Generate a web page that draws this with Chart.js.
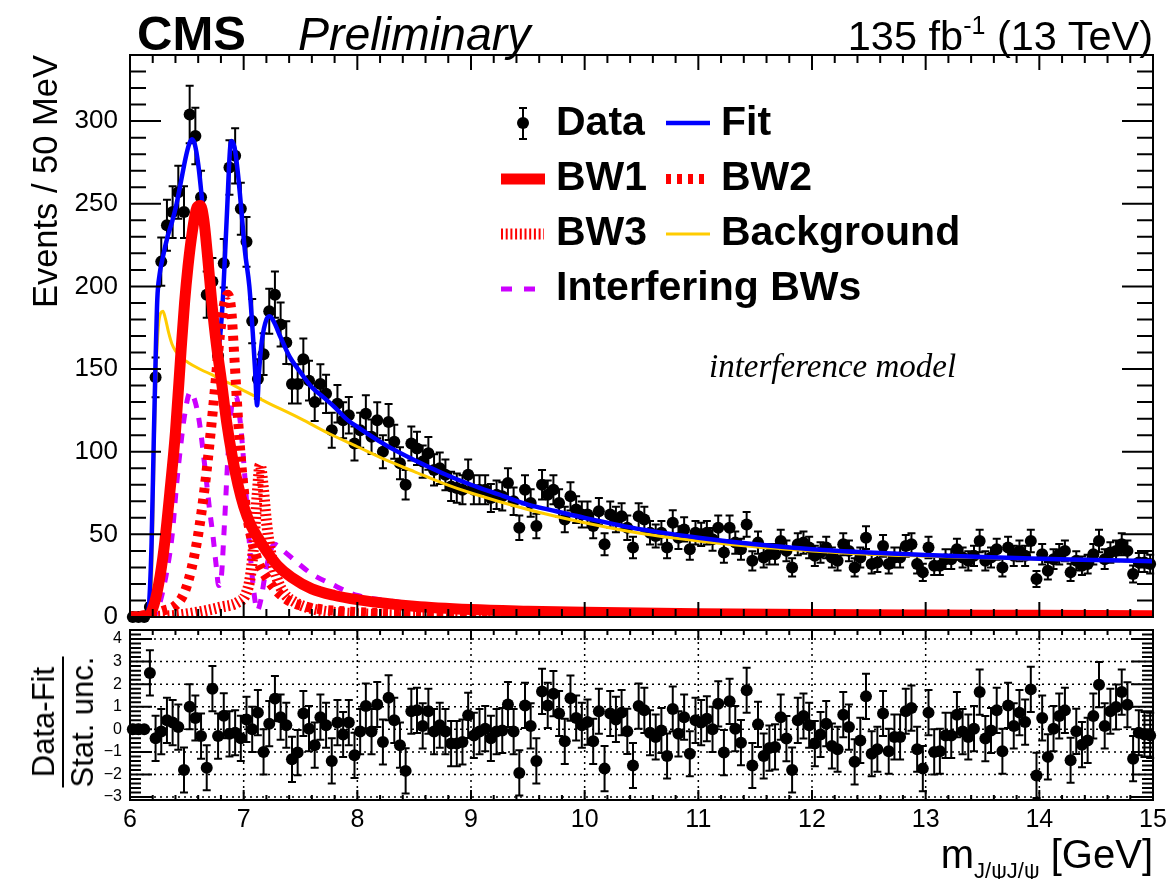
<!DOCTYPE html>
<html>
<head>
<meta charset="utf-8">
<title>CMS J/psi J/psi - interference model</title>
<script src="https://cdn.jsdelivr.net/npm/chart.js@4.4.1/dist/chart.umd.min.js"></script>
<style>
  body { margin: 0; background: #fff; }
  #page { position: relative; width: 1171px; height: 879px; overflow: hidden;
          font-family: "Liberation Sans", Arial, Helvetica, sans-serif; color: #000; }
  canvas { position: absolute; left: 0; }
  #mainCanvas { top: 0; }
  #pullCanvas { top: 600px; }
  .txt { position: absolute; white-space: nowrap; line-height: 1; }
  .leg { font-size: 41px; font-weight: bold; }
</style>
</head>
<body>
<div id="page">
  <canvas id="mainCanvas" width="1171" height="633"></canvas>
  <canvas id="pullCanvas" width="1171" height="279"></canvas>

  <div class="txt" style="left:137px;top:9px;font-size:49px;font-weight:bold">CMS</div>
  <div class="txt" style="left:298px;top:11px;font-size:46.5px;font-style:italic">Preliminary</div>
  <div class="txt" style="right:18px;top:15px;font-size:41.5px">135 fb<span style="font-size:25px;position:relative;top:-16px">-1</span> (13 TeV)</div>

  <div class="txt" style="left:28px;top:360px;width:305px;text-align:right;font-size:34.5px;transform-origin:0 0;transform:rotate(-90deg)">Events / 50 MeV</div>
  <div class="txt" style="left:63px;top:722px;font-size:31px;text-align:center;transform:translate(-50%,-50%) rotate(-90deg)">
    <div style="border-bottom:2px solid #000;padding:0 2px 3px">Data-Fit</div>
    <div style="padding-top:3px">Stat. unc.</div>
  </div>
  <div class="txt" style="right:18px;top:834px;font-size:40px">m<span style="font-size:22px;position:relative;top:10px">J/ψJ/ψ</span> [GeV]</div>

  <div class="txt leg" style="left:556px;top:101px">Data</div>
  <div class="txt leg" style="left:721px;top:101px">Fit</div>
  <div class="txt leg" style="left:556px;top:156px">BW1</div>
  <div class="txt leg" style="left:721px;top:156px">BW2</div>
  <div class="txt leg" style="left:556px;top:211px">BW3</div>
  <div class="txt leg" style="left:721px;top:211px">Background</div>
  <div class="txt leg" style="left:556px;top:266px">Interfering BWs</div>
  <div class="txt" style="left:709px;top:350px;font-size:33px;font-style:italic;font-family:'Liberation Serif','DejaVu Serif',serif">interference model</div>
</div>

<script>
// ---------- DATA ----------
// 50 MeV bins from 6 to 15 GeV
var massLow = 6.0;
var binWidth = 0.05;

// events per bin
var events = [
  0, 0, 0, 6, 145, 215, 237, 245, 257, 245,
  304, 291, 254, 195, 203, 158, 214, 272, 279, 247,
  227, 179, 144, 159, 185, 195, 177, 166, 141, 141,
  156, 143, 130, 141, 135, 113, 129, 119, 122, 105,
  113, 123, 109, 119, 100, 118, 106, 93, 80, 105,
  102, 94, 99, 89, 90, 86, 79, 78, 77, 86,
  77, 77, 77, 72, 74, 73, 81, 70, 54, 77,
  69, 55, 80, 74, 77, 69, 59, 73, 65, 62,
  62, 55, 64, 44, 62, 59, 61, 54, 42, 61,
  59, 51, 49, 51, 42, 57, 48, 53, 41, 51,
  50, 51, 47, 54, 39, 54, 45, 41, 56, 34,
  45, 36, 38, 38, 46, 40, 30, 44, 45, 42,
  37, 39, 42, 36, 34, 44, 40, 30, 36, 48,
  32, 33, 43, 32, 36, 36, 43, 44, 32, 27,
  42, 31, 31, 35, 35, 41, 36, 34, 37, 46,
  34, 36, 41, 30, 42, 37, 40, 37, 46, 23,
  38, 28, 35, 38, 40, 27, 34, 31, 32, 38,
  46, 35, 39, 40, 44, 40, 26, 33, 33, 32
];

// (data - fit) / stat. unc. per bin
var pulls = [
  0, 0, 0, 2.5, -0.4, -0.1, 0.4, 0.3, 0.1, -1.8,
  1.0, 0.5, -0.3, -1.7, 1.8, -0.3, 0.6, -0.2, -0.15, -0.4,
  0.44, 0, 0.74, -1.0, 0.25, 1.36, 0.54, 0.18, -1.33, -1.03,
  0.7, 0.03, -0.7, 0.54, 0.18, -1.4, 0.3, -0.23, 0.3, -1.15,
  -0.1, 1.03, -0.1, 1.1, -0.56, 1.4, 0.4, -0.7, -1.84, 0.8,
  0.84, 0.15, 0.8, -0.1, 0.18, -0.1, -0.63, -0.63, -0.56, 0.62,
  -0.27, -0.1, 0.03, -0.4, -0.1, -0.05, 1.1, -0.1, -1.93, 1.06,
  0.15, -1.4, 1.68, 1.06, 1.58, 0.7, -0.53, 1.38, 0.5, 0.18,
  0.32, -0.53, 0.8, -1.74, 0.7, 0.44, 0.74, -0.09, -1.6, 1.03,
  0.84, -0.15, -0.34, -0.05, -1.18, 0.9, -0.2, 0.54, -1.08, 0.4,
  0.3, 0.47, 0, 1.13, -1.03, 1.24, 0.03, -0.59, 1.73, -1.6,
  0.22, -1.18, -0.83, -0.78, 0.54, -0.41, -1.8, 0.4, 0.59, 0.18,
  -0.63, -0.23, 0.25, -0.74, -0.88, 0.65, 0.1, -1.44, -0.49, 1.46,
  -1.08, -0.88, 0.7, -0.97, -0.34, -0.34, 0.8, 0.94, -0.88, -1.74,
  0.74, -1.0, -0.97, -0.27, -0.27, 0.65, -0.1, -0.34, 0.03, 1.65,
  -0.41, -0.05, 0.84, -0.97, 1.06, 0.15, 0.74, 0.32, 1.77, -2.04,
  0.5, -1.22, 0.03, 0.59, 0.84, -1.37, -0.09, -0.68, -0.49, 0.59,
  1.98, 0.15, 0.8, 0.99, 1.65, 1.09, -1.3, -0.15, -0.23, -0.27
];

// total fit
var fitMass = [6.00, 6.15, 6.17, 6.19, 6.21, 6.225, 6.24, 6.26, 6.29, 6.33, 6.37, 6.41, 6.45, 6.49, 6.52, 6.545, 6.57, 6.60, 6.63, 6.66, 6.69, 6.72, 6.75, 6.77, 6.79, 6.82, 6.85, 6.89, 6.92, 6.95, 6.98, 7.01, 7.05, 7.08, 7.10, 7.118, 7.135, 7.16, 7.20, 7.23, 7.27, 7.32, 7.40, 7.50, 7.60, 7.70, 7.80, 7.90, 8.00, 8.25, 8.50, 8.75, 9.00, 9.25, 9.50, 9.75, 10.0, 10.5, 11.0, 11.5, 12.0, 12.5, 13.0, 13.5, 14.0, 14.5, 15.0];
var fitVal  = [0, 0, 10, 45, 110, 155, 192, 207, 218, 230, 239, 250, 264, 278, 286, 289, 286, 274, 255, 232, 207, 183, 166, 161, 168, 196, 240, 288, 284, 268, 246, 222, 200, 172, 150, 128, 148, 167, 180, 182, 178, 170, 158, 148, 139, 133, 127, 120, 115, 104, 95, 87, 80, 74, 68, 64, 60, 53, 48, 44, 41, 39, 37.5, 36.3, 35.3, 34.5, 33.8];

// BW1
var bw1Mass = [6.00, 6.15, 6.20, 6.25, 6.30, 6.35, 6.40, 6.45, 6.48, 6.51, 6.55, 6.59, 6.62, 6.65, 6.68, 6.72, 6.76, 6.80, 6.85, 6.90, 6.95, 7.00, 7.06, 7.125, 7.20, 7.30, 7.42, 7.60, 7.80, 8.00, 8.50, 9.00, 9.50, 10.0, 11.0, 12.0, 13.0, 14.0, 15.0];
var bw1Val  = [0, 0, 5, 19, 42, 75, 112, 162, 190, 212, 234, 248, 249, 240, 220, 190, 165, 145, 118, 97, 80, 67, 56, 48, 40, 31, 24, 17, 13, 10.5, 6.5, 4.5, 3.5, 2.8, 2.0, 1.5, 1.2, 1.0, 0.8];

// BW2
var bw2Mass = [6.00, 6.20, 6.30, 6.40, 6.48, 6.54, 6.60, 6.66, 6.71, 6.75, 6.79, 6.83, 6.86, 6.89, 6.92, 6.95, 6.98, 7.02, 7.07, 7.13, 7.21, 7.30, 7.42, 7.60, 8.00, 9.00, 10.0, 12.0, 15.0];
var bw2Val  = [0, 2, 4, 7, 15, 29, 50, 80, 112, 140, 170, 190, 195, 186, 155, 120, 92, 66, 47, 33, 23, 15, 9, 5.5, 3, 1.5, 1, 0.6, 0.3];

// BW3
var bw3Mass = [6.00, 6.40, 6.60, 6.80, 6.95, 7.02, 7.06, 7.09, 7.12, 7.145, 7.17, 7.20, 7.24, 7.30, 7.36, 7.45, 7.60, 8.00, 9.00, 15.0];
var bw3Val  = [0, 1, 3, 6, 9, 14, 25, 45, 75, 92, 80, 58, 38, 22, 14, 9, 5, 2, 1, 0.2];

// interfering BWs
var intMass = [6.00, 6.20, 6.25, 6.28, 6.33, 6.37, 6.41, 6.44, 6.48, 6.53, 6.57, 6.61, 6.66, 6.70, 6.73, 6.76, 6.78, 6.80, 6.83, 6.86, 6.89, 6.93, 6.97, 7.01, 7.05, 7.09, 7.12, 7.15, 7.20, 7.27, 7.35, 7.47, 7.60, 7.77, 8.00, 8.25, 8.50, 9.00, 9.50, 10.0, 11.0, 12.0, 13.5, 15.0];
var intVal  = [0, 0, 6, 13, 30, 49, 80, 100, 122, 136, 131, 118, 90, 65, 49, 30, 19, 22, 55, 95, 125, 134, 118, 85, 45, 15, 4, 10, 30, 44, 40, 33, 26, 20, 13, 10, 8, 5, 3.5, 2.5, 1.5, 1, 0.6, 0.4];

// background
var bkgMass = [6.00, 6.17, 6.19, 6.21, 6.23, 6.25, 6.27, 6.29, 6.31, 6.34, 6.37, 6.40, 6.45, 6.51, 6.60, 6.80, 7.00, 7.20, 7.50, 7.75, 8.00, 8.25, 8.50, 8.75, 9.00, 9.50, 10.0, 10.5, 11.0, 11.5, 12.0, 12.5, 13.0, 13.5, 14.0, 14.5, 15.0];
var bkgVal  = [0, 0, 20, 90, 150, 176, 184, 185, 181, 172, 165, 161, 157, 154, 150.5, 144, 137, 130, 120, 111, 103, 95, 88, 81, 75, 65, 57, 50.5, 46, 42.5, 40, 38, 36.8, 35.8, 35, 34.3, 33.7];

// axis ticks
var mainYTicks = [0, 50, 100, 150, 200, 250, 300];
var pullYTicks = [-3, -2, -1, 0, 1, 2, 3, 4];
var massTicks = [6, 7, 8, 9, 10, 11, 12, 13, 14, 15];

// ---------- helpers ----------
var binMass = events.map(function (n, i) { return +(massLow + (i + 0.5) * binWidth).toFixed(3); });

function curve(xs, ys) {
  return xs.map(function (x, i) { return { x: x, y: ys[i] }; });
}

function line(label, xs, ys, color, width, dash) {
  return {
    label: label, data: curve(xs, ys), showLine: true, pointRadius: 0,
    borderColor: color, backgroundColor: color, borderWidth: width,
    borderDash: dash || [], borderCapStyle: 'butt', cubicInterpolationMode: 'monotone', fill: false
  };
}

// ROOT style frame with inward ticks on all four sides
function drawFrameTicks(chart, t) {
  var ctx = chart.ctx, a = chart.chartArea, x = chart.scales.x, y = chart.scales.y;
  ctx.save();
  ctx.strokeStyle = '#000';
  ctx.lineWidth = 2;
  ctx.setLineDash([]);
  ctx.beginPath();
  var k, v, len, p;
  var k0 = Math.ceil(x.min / t.xStep - 1e-6), k1 = Math.floor(x.max / t.xStep + 1e-6);
  for (k = k0; k <= k1; k++) {
    v = k * t.xStep;
    len = Math.abs(v - Math.round(v / t.xMajor) * t.xMajor) < 1e-6 ? t.xMajorLen : t.xMinorLen;
    p = x.getPixelForValue(v);
    ctx.moveTo(p, a.bottom); ctx.lineTo(p, a.bottom - len);
    ctx.moveTo(p, a.top); ctx.lineTo(p, a.top + len);
  }
  k0 = Math.ceil(y.min / t.yStep - 1e-6); k1 = Math.floor(y.max / t.yStep + 1e-6);
  for (k = k0; k <= k1; k++) {
    v = k * t.yStep;
    len = Math.abs(v - Math.round(v / t.yMajor) * t.yMajor) < 1e-6 ? t.yMajorLen : t.yMinorLen;
    p = y.getPixelForValue(v);
    ctx.moveTo(a.left, p); ctx.lineTo(a.left + len, p);
    ctx.moveTo(a.right, p); ctx.lineTo(a.right - len, p);
  }
  ctx.stroke();
  ctx.strokeRect(a.left, a.top, a.right - a.left, a.bottom - a.top);
  ctx.restore();
}

function drawErrorBars(chart, vals, errs, cap) {
  var ctx = chart.ctx, x = chart.scales.x, y = chart.scales.y;
  ctx.save();
  ctx.strokeStyle = '#000';
  ctx.lineWidth = 2;
  ctx.beginPath();
  vals.forEach(function (v, i) {
    var e = errs[i];
    if (!e) return;
    var px = x.getPixelForValue(binMass[i]);
    var y1 = y.getPixelForValue(v - e), y2 = y.getPixelForValue(v + e);
    ctx.moveTo(px, y1); ctx.lineTo(px, y2);
    ctx.moveTo(px - cap, y1); ctx.lineTo(px + cap, y1);
    ctx.moveTo(px - cap, y2); ctx.lineTo(px + cap, y2);
  });
  ctx.stroke();
  ctx.restore();
}

function legendLine(ctx, x1, x2, yy, color, width, dash) {
  ctx.save();
  ctx.strokeStyle = color;
  ctx.lineWidth = width;
  ctx.lineCap = 'butt';
  ctx.setLineDash(dash || []);
  ctx.beginPath();
  ctx.moveTo(x1, yy); ctx.lineTo(x2, yy);
  ctx.stroke();
  ctx.restore();
}

Chart.defaults.font.family = '"Liberation Sans", Arial, Helvetica, sans-serif';
Chart.defaults.color = '#000';

var statErr = events.map(function (n) { return n > 0 ? Math.sqrt(n) : 0; });
var pullErr = events.map(function (n) { return n > 0 ? 1 : 0; });

// ---------- main panel ----------
var mainDeco = {
  id: 'mainDeco',
  beforeDatasetsDraw: function (chart) {
    drawErrorBars(chart, events, statErr, 4);
  },
  afterDraw: function (chart) {
    drawFrameTicks(chart, { xStep: 0.2, xMajor: 1, xMajorLen: 15, xMinorLen: 8,
                            yStep: 10, yMajor: 50, yMajorLen: 31, yMinorLen: 16 });
    var ctx = chart.ctx;
    // legend symbols
    ctx.save();
    ctx.strokeStyle = '#000'; ctx.lineWidth = 2;
    ctx.beginPath();
    ctx.moveTo(523, 108); ctx.lineTo(523, 139);
    ctx.moveTo(519, 108); ctx.lineTo(527, 108);
    ctx.moveTo(519, 139); ctx.lineTo(527, 139);
    ctx.stroke();
    ctx.fillStyle = '#000';
    ctx.beginPath(); ctx.arc(523, 123, 6, 0, Math.PI * 2); ctx.fill();
    ctx.restore();
    legendLine(ctx, 666, 710, 123, '#0000ff', 4.5);
    legendLine(ctx, 501, 545, 179, '#ff0000', 11);
    legendLine(ctx, 666, 710, 179, '#ff0000', 10, [5, 6]);
    legendLine(ctx, 501, 544, 234, '#ff0000', 11, [2, 2.7]);
    legendLine(ctx, 666, 710, 234, '#ffcc00', 3);
    legendLine(ctx, 501, 535, 289, '#cc00ff', 5, [11, 12]);
  }
};

new Chart(document.getElementById('mainCanvas'), {
  type: 'scatter',
  data: {
    datasets: [
      line('BW1', bw1Mass, bw1Val, '#ff0000', 11),
      line('BW2', bw2Mass, bw2Val, '#ff0000', 10, [5, 6]),
      line('BW3', bw3Mass, bw3Val, '#ff0000', 11, [2, 2.7]),
      line('Interfering BWs', intMass, intVal, '#cc00ff', 5, [10, 10]),
      line('Fit', fitMass, fitVal, '#0000ff', 4.5),
      line('Background', bkgMass, bkgVal, '#ffcc00', 3),
      {
        label: 'Data', data: curve(binMass, events), showLine: false,
        pointRadius: 6, pointBackgroundColor: '#000', pointBorderWidth: 0, clip: false
      }
    ]
  },
  options: {
    responsive: false, animation: false, devicePixelRatio: 1, events: [],
    layout: { autoPadding: false, padding: { left: 0, right: 18, top: 55, bottom: 0 } },
    plugins: { legend: { display: false }, tooltip: { enabled: false } },
    scales: {
      x: {
        type: 'linear', min: 6, max: 15,
        ticks: { display: false },
        grid: { display: false, drawTicks: false }, border: { display: false },
        afterFit: function (s) { s.height = 16; }
      },
      y: {
        min: 0, max: 340,
        ticks: { font: { size: 26 }, padding: 0, color: '#000', autoSkip: false },
        grid: { display: false, drawTicks: true, tickLength: 12 }, border: { display: false },
        afterBuildTicks: function (s) { s.ticks = mainYTicks.map(function (v) { return { value: v }; }); },
        afterFit: function (s) { s.width = 130; }
      }
    }
  },
  plugins: [mainDeco]
});

// ---------- pull panel ----------
var pullDeco = {
  id: 'pullDeco',
  beforeDatasetsDraw: function (chart) {
    var ctx = chart.ctx, a = chart.chartArea, x = chart.scales.x, y = chart.scales.y;
    ctx.save();
    ctx.strokeStyle = '#000';
    ctx.lineWidth = 1.5;
    ctx.setLineDash([2, 4]);
    ctx.beginPath();
    massTicks.forEach(function (m) {
      var p = x.getPixelForValue(m);
      ctx.moveTo(p, a.top); ctx.lineTo(p, a.bottom);
    });
    pullYTicks.forEach(function (v) {
      var p = y.getPixelForValue(v);
      ctx.moveTo(a.left, p); ctx.lineTo(a.right, p);
    });
    ctx.stroke();
    ctx.restore();
    drawErrorBars(chart, pulls, pullErr, 4);
  },
  afterDraw: function (chart) {
    drawFrameTicks(chart, { xStep: 0.2, xMajor: 1, xMajorLen: 10, xMinorLen: 5,
                            yStep: 0.2, yMajor: 1, yMajorLen: 22, yMinorLen: 11 });
  }
};

new Chart(document.getElementById('pullCanvas'), {
  type: 'scatter',
  data: {
    datasets: [{
      label: 'Pull', data: curve(binMass, pulls), showLine: false,
      pointRadius: 6, pointBackgroundColor: '#000', pointBorderWidth: 0, clip: false
    }]
  },
  options: {
    responsive: false, animation: false, devicePixelRatio: 1, events: [],
    layout: { autoPadding: false, padding: { left: 0, right: 18, top: 30, bottom: 0 } },
    plugins: { legend: { display: false }, tooltip: { enabled: false } },
    scales: {
      x: {
        type: 'linear', min: 6, max: 15,
        ticks: { font: { size: 25 }, padding: 2, color: '#000', autoSkip: false, maxRotation: 0 },
        grid: { display: false, drawTicks: true, tickLength: 3 }, border: { display: false },
        afterBuildTicks: function (s) { s.ticks = massTicks.map(function (v) { return { value: v }; }); },
        afterFit: function (s) { s.height = 79; }
      },
      y: {
        min: -3.13, max: 4.4,
        ticks: {
          font: { size: 16 }, padding: 0, color: '#000', autoSkip: false,
          callback: function (v) { return v < 0 ? '\u2212' + Math.abs(v) : String(v); }
        },
        grid: { display: false, drawTicks: true, tickLength: 8 }, border: { display: false },
        afterBuildTicks: function (s) { s.ticks = pullYTicks.map(function (v) { return { value: v }; }); },
        afterFit: function (s) { s.width = 130; }
      }
    }
  },
  plugins: [pullDeco]
});
</script>
</body>
</html>
